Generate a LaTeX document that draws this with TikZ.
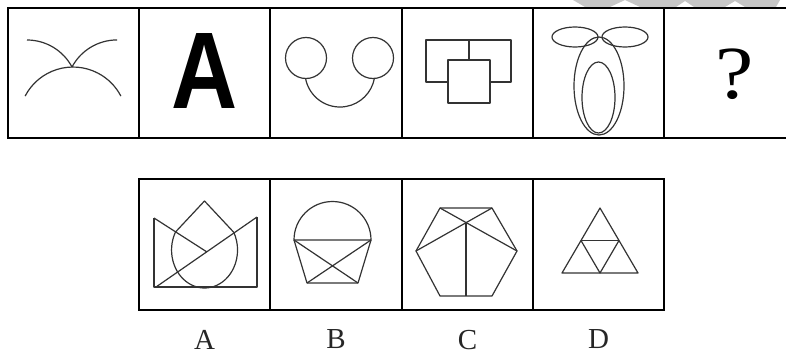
\documentclass[tikz,border=0pt]{standalone}
\usepackage{fontspec}
\setmainfont{Liberation Serif}
\newfontfamily\headsans{Liberation Sans}
\usetikzlibrary{positioning}

\begin{document}
\begin{tikzpicture}[
    x=1pt, y=1pt,
    cell/.style={
        rectangle, draw=black, line width=1.4pt,
        minimum width=131pt, minimum height=130pt, inner sep=0pt
    },
    fig/.style={draw=black!80, line width=1.2pt, line join=round},
    lbl/.style={font=\fontsize{29}{29}\selectfont, inner sep=0pt, text=black!85},
    wmark/.style={fill=black!22, draw=none},
]
\fill[white] (0,0) rectangle (786,357);
\useasboundingbox (0,0) rectangle (786,357);

% watermark at the top edge
\fill[wmark] (573,357) -- (780,357) -- (776,350) -- (745,350) -- (735,356)
  -- (725,350) -- (694,350) -- (685,356) -- (676,350) -- (640,350)
  -- (625,357) -- (610,350) -- (585,350) -- cycle;

% question row
\foreach \n/\cx in {1/73.5, 2/204.5, 3/336, 4/467.5, 5/598.5, 6/729.5}
  \node[cell] (q\n) at (\cx,284) {};

% answer row
\foreach \n/\cx/\lab in {1/204.5/A, 2/336/B, 3/467.5/C, 4/598.5/D} {
  \node[cell, minimum height=131pt] (a\n) at (\cx,112.5) {};
  \node[lbl, below=19pt of a\n] (l\n) {\lab};
}

% 1: crossing arcs
\draw[fig] (27,317) arc[start angle=90, end angle=28, radius=51];
\draw[fig] (72,290) arc[start angle=152, end angle=90, radius=51];
\draw[fig] (25.1,260.9) arc[start angle=152.5, end angle=27.5, radius=54];

% 2: letter
\node[font=\headsans\bfseries\fontsize{109}{109}\selectfont, inner sep=0pt, anchor=base]
  (glyphA) at (205,249) {\scalebox{0.84}[1]{A}};

% 3: two rings and a cup
\draw[fig] (306,299) circle[radius=20.5];
\draw[fig] (373,299) circle[radius=20.5];
\draw[fig] (305.5,278.9) arc[start angle=190, end angle=350, radius=35];

% 4: boxes
\draw[fig] (426,275) rectangle (511,317);
\draw[fig] (469,317) -- (469,297);
\filldraw[fig, fill=white] (448,254) rectangle (490,297);

% 5: ellipses
\draw[fig] (575,320) ellipse[x radius=23, y radius=10];
\draw[fig] (625,320) ellipse[x radius=23, y radius=10];
\draw[fig] (599,271) ellipse[x radius=25, y radius=49];
\draw[fig] (598.5,259.5) ellipse[x radius=16.5, y radius=35.5];

% 6: question mark
\node[font=\fontsize{75}{75}\selectfont, inner sep=0pt, anchor=base]
  (glyphQ) at (735,259) {\scalebox{1.15}[1]{?}};

% A
\draw[fig] (154,139) -- (154,70) -- (257,70) -- (257,140);
\draw[fig] (156,70) -- (257,140);
\draw[fig] (154,139) -- (207,105);
\draw[fig] (175.5,125) -- (204.5,156) -- (233.5,125);
\draw[fig] (175.5,125) arc[start angle=151.7, end angle=388.3, x radius=33, y radius=38];

% B
\draw[fig] (294,117) arc[start angle=180, end angle=0, radius=38.5] -- cycle;
\draw[fig] (294,117) -- (307,74) -- (358,74) -- (371,117);
\draw[fig] (294,117) -- (358,74);
\draw[fig] (371,117) -- (307,74);

% C
\draw[fig] (440,149) -- (492,149) -- (517,106) -- (492,61) -- (440,61) -- (416,106) -- cycle;
\draw[fig] (440,149) -- (517,106);
\draw[fig] (492,149) -- (416,106);
\draw[fig] (466,134.5) -- (466,61);

% D
\draw[fig] (600,149) -- (562,84) -- (638,84) -- cycle;
\draw[fig] (581,116.5) -- (600,84) -- (619,116.5);
\draw[fig, line width=1.7pt] (581,116.5) -- (619,116.5);

\end{tikzpicture}
\end{document}
